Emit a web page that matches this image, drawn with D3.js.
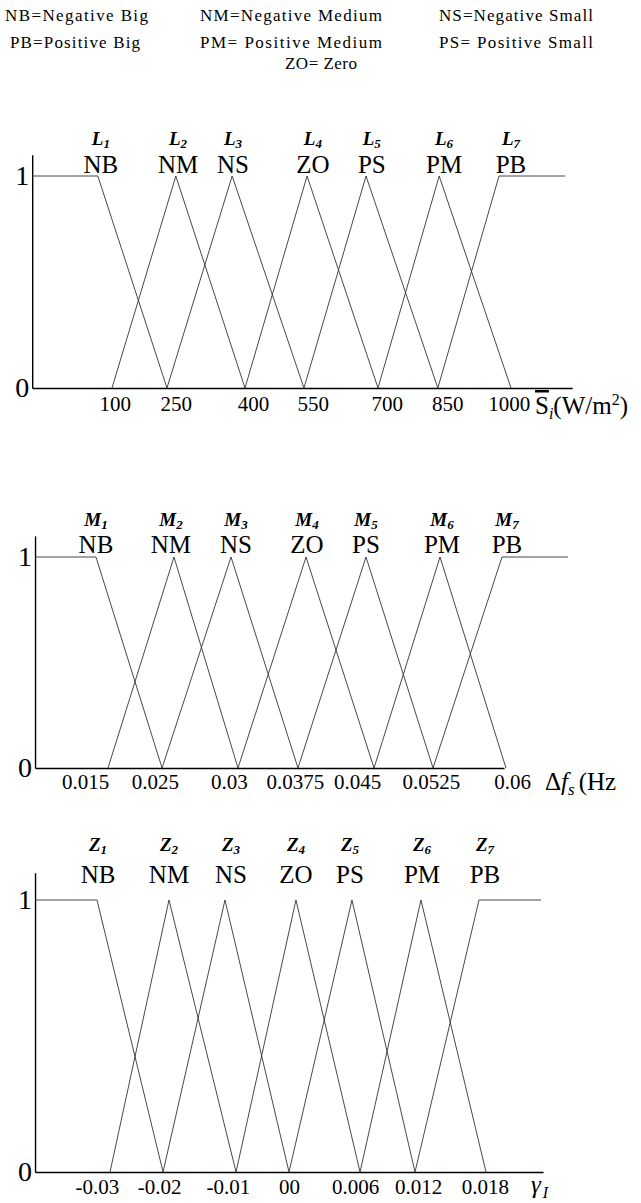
<!DOCTYPE html>
<html>
<head>
<meta charset="utf-8">
<script src="https://d3js.org/d3.v7.min.js"></script>
<style>
  body { margin: 0; background: #fff; }
  text { font-family: "Liberation Serif", "DejaVu Serif", serif; fill: #000; }
</style>
</head>
<body>
<script>
//====================================================================//
//  DATA (x in each panel's own unit)
//====================================================================//

var legendRow1 = ["NB=Negative Big", "NM=Negative Medium", "NS=Negative Small"];
var legendRow2 = ["PB=Positive Big", "PM= Positive Medium", "PS= Positive Small"];
var legendRow3 = ["ZO= Zero"];

var setNames = ["NB", "NM", "NS", "ZO", "PS", "PM", "PB"];
var setIndex = ["1", "2", "3", "4", "5", "6", "7"];

// panel 1 : irradiance S_i (W/m2)
var irrTickVals = [106, 244, 418, 553, 720, 856, 995];
var irrTickText = ["100", "250", "400", "550", "700", "850", "1000"];
var irrLabelAt  = [75, 249, 373, 553, 686, 849, 1000];
var irrAxis     = [-80, 1138];
var irrSets = [
    [[-80, 1], [68, 1], [224, 0]],
    [[100, 0], [244, 1], [400, 0]],
    [[224, 0], [371, 1], [533, 0]],
    [[400, 0], [540, 1], [700, 0]],
    [[533, 0], [673, 1], [835, 0]],
    [[700, 0], [838, 1], [1000, 0]],
    [[835, 0], [973, 1], [1122, 1]]
];

// panel 2 : frequency deviation (Hz)
var frqTickVals = [0.0124, 0.02031, 0.02868, 0.03614, 0.04316, 0.05152, 0.06068];
var frqTickText = ["0.015", "0.025", "0.03", "0.0375", "0.045", "0.0525", "0.06"];
var frqLabelAt  = [0.01364, 0.02212, 0.02947, 0.0375, 0.04417, 0.05277, 0.06011];
var frqAxis     = [0.00675, 0.05978];
var frqSets = [
    [[0.00675, 1], [0.01364, 1], [0.02111, 0]],
    [[0.015, 0], [0.02246, 1], [0.0297, 0]],
    [[0.02111, 0], [0.02891, 1], [0.03648, 0]],
    [[0.0297, 0], [0.03739, 1], [0.04508, 0]],
    [[0.03648, 0], [0.04417, 1], [0.05175, 0]],
    [[0.04508, 0], [0.05254, 1], [0.06, 0]],
    [[0.05175, 0], [0.05955, 1], [0.06701, 1]]
];

// panel 3 : gamma_I
var gamTickVals = [-0.03166, -0.02374, -0.01494, -0.00715, 0.00128, 0.00932, 0.01787];
var gamTickText = ["-0.03", "-0.02", "-0.01", "00", "0.006", "0.012", "0.018"];
var gamLabelAt  = [-0.03153, -0.02247, -0.01455, -0.00626, 0.00064, 0.00983, 0.01787];
var gamAxis     = [-0.03957, 0.02528];
var gamSets = [
    [[-0.03957, 1], [-0.03166, 1], [-0.02323, 0]],
    [[-0.03, 0], [-0.02247, 1], [-0.01391, 0]],
    [[-0.02323, 0], [-0.01532, 1], [-0.00715, 0]],
    [[-0.01391, 0], [-0.00626, 1], [0.00192, 0]],
    [[-0.00715, 0], [0.00089, 1], [0.00894, 0]],
    [[0.00192, 0], [0.0097, 1], [0.018, 0]],
    [[0.00894, 0], [0.01711, 1], [0.02502, 1]]
];

//====================================================================//
//  SVG
//====================================================================//

var width = 641, height = 1203;

var svg = d3.select("body")
    .append("svg")
    .attr("width", width)
    .attr("height", height);

svg.append("rect").attr("width", width).attr("height", height).attr("fill", "#fff");

// legend on top
var legendLen1 = [143, 182, 154];
var legendLen2 = [130, 182, 154];

function legendRow(items, xs, lens, yBase) {
    svg.selectAll(null)
        .data(items)
        .join("text")
            .attr("x", function(d, i) { return xs[i]; })
            .attr("y", yBase)
            .attr("textLength", function(d, i) { return lens[i]; })
            .attr("lengthAdjust", "spacing")
            .style("font-size", "17px")
            .text(function(d) { return d; });
}
legendRow(legendRow1, [5, 200, 439], legendLen1, 21);
legendRow(legendRow2, [10, 200, 439], legendLen2, 48);
legendRow(legendRow3, [285], [72], 69);

//====================================================================//
//  PANELS
//====================================================================//

function drawPanel(p) {
    var x = d3.scaleLinear().domain(p.calib).range(p.calibPx);
    var y = d3.scaleLinear().domain([0, 1.1]).range([p.bottom, p.bottom - 1.1 * p.h]);
    var g = svg.append("g");

    // x axis, no tick marks, labels only
    var xa = x.copy().domain(p.axis).range(p.axis.map(x));
    var gx = g.append("g")
        .attr("transform", "translate(0," + p.bottom + ")")
        .call(d3.axisBottom(xa)
            .tickValues(p.tickVals)
            .tickFormat(function(d, i) { return p.tickText[i]; })
            .tickSize(0)
            .tickPadding(p.pad));
    gx.select(".domain").attr("stroke", "#000").attr("stroke-width", 1.4);
    gx.selectAll("text")
        .style("font-family", "'Liberation Serif', serif")
        .style("font-size", "21px")
        .attr("fill", "#000");

    // y axis with 0 and 1
    var gy = g.append("g")
        .attr("transform", "translate(" + x(p.axis[0]) + ",0)")
        .call(d3.axisLeft(y)
            .tickValues([0, 1])
            .tickFormat(d3.format("d"))
            .tickSize(0)
            .tickPadding(3));
    gy.select(".domain").attr("stroke", "#000").attr("stroke-width", 1.4);
    gy.selectAll("text")
        .style("font-family", "'Liberation Serif', serif")
        .style("font-size", "28px")
        .attr("fill", "#000");

    // membership functions
    var line = d3.line()
        .x(function(d) { return x(d[0]); })
        .y(function(d) { return y(d[1]); });

    g.selectAll("path.mf")
        .data(p.sets)
        .join("path")
            .attr("class", "mf")
            .attr("d", line)
            .attr("fill", "none")
            .attr("stroke", "#333")
            .attr("stroke-width", 0.9);

    // NB, NM ... names
    g.selectAll("text.set")
        .data(setNames)
        .join("text")
            .attr("class", "set")
            .attr("x", function(d, i) { return x(p.labelAt[i]); })
            .attr("y", y(1) + p.setDy)
            .attr("text-anchor", "middle")
            .style("font-size", "25px")
            .text(function(d) { return d; });

    // L1, M1, Z1 ...
    var lt = g.selectAll("text.letter")
        .data(setIndex)
        .join("text")
            .attr("class", "letter")
            .attr("x", function(d, i) { return x(p.labelAt[i]); })
            .attr("y", y(1) + p.letterDy)
            .attr("text-anchor", "middle")
            .style("font-weight", "bold")
            .style("font-style", "italic");
    lt.append("tspan").style("font-size", "19px").text(p.letter);
    lt.append("tspan").style("font-size", "13px").attr("dy", 3).text(function(d) { return d; });

    // axis title
    var t = g.append("text")
        .attr("x", p.titleX)
        .attr("y", p.bottom + p.titleDy)
        .style("font-size", "25px");
    p.title(t);
}

drawPanel({
    sets: irrSets, tickVals: irrTickVals, tickText: irrTickText, labelAt: irrLabelAt,
    axis: irrAxis, calib: [100, 1000], calibPx: [112, 511],
    bottom: 388, h: 212, pad: 8, letterDy: -31, setDy: -3, letter: "L",
    titleX: 535, titleDy: 26,
    title: function(t) {
        t.append("tspan").style("text-decoration", "overline").text("S");
        t.append("tspan").attr("dy", 5).style("font-size", "16px").style("font-style", "italic").text("i");
        t.append("tspan").attr("dy", -5).text("(W/m");
        t.append("tspan").attr("dy", -9).style("font-size", "16px").text("2");
        t.append("tspan").attr("dy", 9).text(")");
    }
});

drawPanel({
    sets: frqSets, tickVals: frqTickVals, tickText: frqTickText, labelAt: frqLabelAt,
    axis: frqAxis, calib: [0.015, 0.06], calibPx: [108, 506],
    bottom: 768, h: 211, pad: 6, letterDy: -31, setDy: -4, letter: "M",
    titleX: 545, titleDy: 22,
    title: function(t) {
        t.append("tspan").text("\u0394");
        t.append("tspan").style("font-style", "italic").text("f");
        t.append("tspan").attr("dy", 5).style("font-size", "17px").style("font-style", "italic").text("s");
        t.append("tspan").attr("dy", -5).attr("dx", 4).text("(Hz");
    }
});

drawPanel({
    sets: gamSets, tickVals: gamTickVals, tickText: gamTickText, labelAt: gamLabelAt,
    axis: gamAxis, calib: [-0.03, 0.018], calibPx: [110, 486],
    bottom: 1172, h: 272, pad: 7, letterDy: -49, setDy: -17, letter: "Z",
    titleX: 531, titleDy: 21,
    title: function(t) {
        t.append("tspan").style("font-style", "italic").text("\u03b3");
        t.append("tspan").attr("dy", 5).attr("dx", 2).style("font-size", "16px").style("font-style", "italic").text("I");
    }
});
</script>
</body>
</html>
